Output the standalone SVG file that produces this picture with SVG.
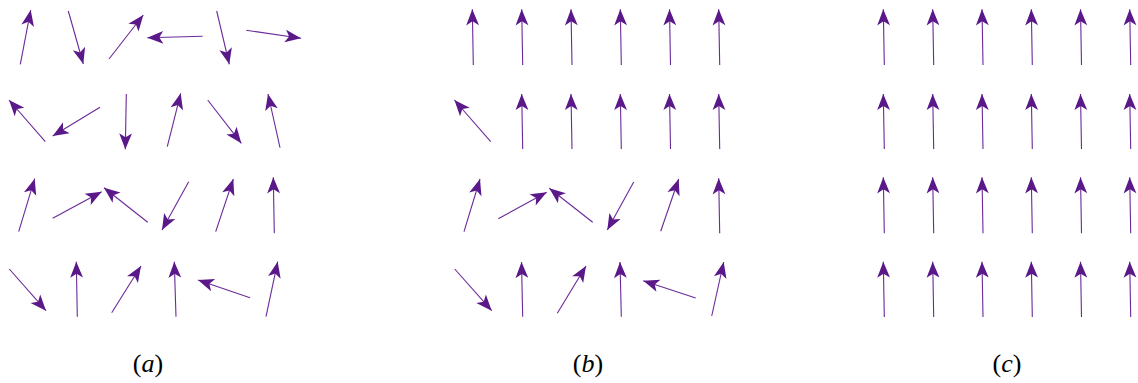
<svg xmlns="http://www.w3.org/2000/svg" width="1138" height="383" viewBox="0 0 1138 383">
<style>
.ar{stroke:#6a2a9a;stroke-width:1.1;fill:none;marker-end:url(#head)}
</style>
<defs>
<marker id="head" markerUnits="userSpaceOnUse" viewBox="-17 -7 18 14" refX="0" refY="0" markerWidth="18" markerHeight="14" orient="auto">
<path d="M0,0 L-16,-6.4 L-12,0 L-16,6.4 Z" fill="#5a1889"/>
</marker>
</defs>
<rect width="1138" height="383" fill="#fff"/>
<g id="connectors">
<g id="panel-a">
<line class="ar" x1="20.3" y1="64.3" x2="30.7" y2="10"/>
<line class="ar" x1="68.3" y1="11" x2="83.3" y2="64"/>
<line class="ar" x1="109" y1="59" x2="143.3" y2="15"/>
<line class="ar" x1="202.7" y1="36.3" x2="147.3" y2="37.7"/>
<line class="ar" x1="216.7" y1="11" x2="229.3" y2="64.3"/>
<line class="ar" x1="246.3" y1="30.3" x2="301" y2="38.3"/>
<line class="ar" x1="45.3" y1="141.7" x2="9" y2="100"/>
<line class="ar" x1="100" y1="107.3" x2="52.7" y2="136"/>
<line class="ar" x1="126.3" y1="94" x2="125.3" y2="149.3"/>
<line class="ar" x1="167.3" y1="146.7" x2="180.7" y2="93.3"/>
<line class="ar" x1="207.7" y1="100" x2="241.3" y2="143.3"/>
<line class="ar" x1="280" y1="147.7" x2="268" y2="94"/>
<line class="ar" x1="18.7" y1="231.7" x2="34.7" y2="178.7"/>
<line class="ar" x1="52.7" y1="218.3" x2="101.7" y2="191.7"/>
<line class="ar" x1="147.7" y1="222.3" x2="104" y2="187.7"/>
<line class="ar" x1="188.7" y1="181.7" x2="162" y2="230"/>
<line class="ar" x1="215.7" y1="231.7" x2="233.3" y2="179"/>
<line class="ar" x1="274.3" y1="233.3" x2="273.3" y2="177.3"/>
<line class="ar" x1="9.3" y1="269" x2="46" y2="310.7"/>
<line class="ar" x1="77.3" y1="316.7" x2="76.3" y2="261.7"/>
<line class="ar" x1="111.7" y1="312.7" x2="141" y2="266"/>
<line class="ar" x1="176" y1="316.7" x2="174.3" y2="261.7"/>
<line class="ar" x1="250" y1="297.7" x2="198" y2="280"/>
<line class="ar" x1="266" y1="316.7" x2="277.7" y2="261.7"/>
</g>
<g id="panel-b">
<line class="ar" x1="473.3" y1="65" x2="472.3" y2="9.3"/>
<line class="ar" x1="522.7" y1="65" x2="521.7" y2="9.3"/>
<line class="ar" x1="572" y1="65" x2="571" y2="9.3"/>
<line class="ar" x1="621.3" y1="65" x2="620.3" y2="9.3"/>
<line class="ar" x1="670.5" y1="65" x2="669.5" y2="9.3"/>
<line class="ar" x1="719.7" y1="65" x2="718.7" y2="9.3"/>
<line class="ar" x1="490.7" y1="141.7" x2="454.4" y2="100"/>
<line class="ar" x1="522.7" y1="149" x2="521.7" y2="94"/>
<line class="ar" x1="572" y1="149" x2="571" y2="94"/>
<line class="ar" x1="621.3" y1="149" x2="620.3" y2="94"/>
<line class="ar" x1="670.5" y1="149" x2="669.5" y2="94"/>
<line class="ar" x1="719.7" y1="149" x2="718.7" y2="94"/>
<line class="ar" x1="464" y1="231.7" x2="480" y2="179"/>
<line class="ar" x1="498.3" y1="218.7" x2="546.7" y2="192.3"/>
<line class="ar" x1="592.7" y1="222.3" x2="549.3" y2="188.3"/>
<line class="ar" x1="633.7" y1="182" x2="607.3" y2="230"/>
<line class="ar" x1="660.7" y1="231.3" x2="678.7" y2="179"/>
<line class="ar" x1="719.7" y1="233.3" x2="718.7" y2="178.3"/>
<line class="ar" x1="454.7" y1="269" x2="491.7" y2="310.7"/>
<line class="ar" x1="522.7" y1="316.7" x2="521.5" y2="262"/>
<line class="ar" x1="557.3" y1="313.3" x2="586" y2="266"/>
<line class="ar" x1="621.3" y1="316.7" x2="620" y2="262"/>
<line class="ar" x1="695.7" y1="298" x2="643.3" y2="280.7"/>
<line class="ar" x1="711.7" y1="316" x2="723.7" y2="262"/>
</g>
<g id="panel-c">
<line class="ar" x1="884.3" y1="65" x2="883.3" y2="9.3"/>
<line class="ar" x1="933.7" y1="65" x2="932.7" y2="9.3"/>
<line class="ar" x1="983" y1="65" x2="982" y2="9.3"/>
<line class="ar" x1="1032.3" y1="65" x2="1031.3" y2="9.3"/>
<line class="ar" x1="1081.5" y1="65" x2="1080.5" y2="9.3"/>
<line class="ar" x1="1130.7" y1="65" x2="1129.7" y2="9.3"/>
<line class="ar" x1="884.3" y1="149" x2="883.3" y2="94"/>
<line class="ar" x1="933.7" y1="149" x2="932.7" y2="94"/>
<line class="ar" x1="983" y1="149" x2="982" y2="94"/>
<line class="ar" x1="1032.3" y1="149" x2="1031.3" y2="94"/>
<line class="ar" x1="1081.5" y1="149" x2="1080.5" y2="94"/>
<line class="ar" x1="1130.7" y1="149" x2="1129.7" y2="94"/>
<line class="ar" x1="884.3" y1="233.3" x2="883.3" y2="177.3"/>
<line class="ar" x1="933.7" y1="233.3" x2="932.7" y2="177.3"/>
<line class="ar" x1="983" y1="233.3" x2="982" y2="177.3"/>
<line class="ar" x1="1032.3" y1="233.3" x2="1031.3" y2="177.3"/>
<line class="ar" x1="1081.5" y1="233.3" x2="1080.5" y2="177.3"/>
<line class="ar" x1="1130.7" y1="233.3" x2="1129.7" y2="177.3"/>
<line class="ar" x1="884.3" y1="317" x2="883.3" y2="261.7"/>
<line class="ar" x1="933.7" y1="317" x2="932.7" y2="261.7"/>
<line class="ar" x1="983" y1="317" x2="982" y2="261.7"/>
<line class="ar" x1="1032.3" y1="317" x2="1031.3" y2="261.7"/>
<line class="ar" x1="1081.5" y1="317" x2="1080.5" y2="261.7"/>
<line class="ar" x1="1130.7" y1="317" x2="1129.7" y2="261.7"/>
</g>
</g>
<g id="labels" font-family="Liberation Serif, serif" font-size="26" fill="#000" text-anchor="middle">
<text id="label-a" x="148" y="372">(<tspan font-style="italic">a</tspan>)</text>
<text id="label-b" x="588" y="372">(<tspan font-style="italic">b</tspan>)</text>
<text id="label-c" x="1007" y="372">(<tspan font-style="italic">c</tspan>)</text>
</g>
</svg>
